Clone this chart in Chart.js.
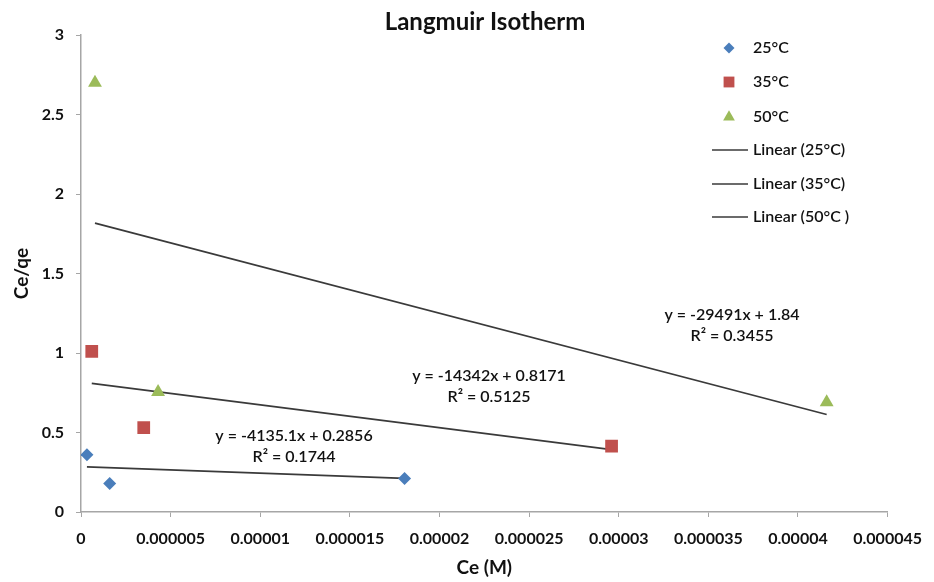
<!DOCTYPE html>
<html>
<head>
<meta charset="utf-8">
<script src="https://cdn.jsdelivr.net/npm/chart.js@4"></script>
<style>
  html, body { margin: 0; padding: 0; background: #fff; }
  #wrap { width: 934px; height: 582px; position: relative; }
</style>
</head>
<body>
<div id="wrap"><canvas id="chart"></canvas></div>
<script>
  // Data
  const seriesNames = ['25°C', '35°C', '50°C'];
  const ce25 = [0.00000033, 0.0000016, 0.00001805];
  const ratio25 = [0.36, 0.18, 0.21];
  const ce35 = [0.0000006, 0.0000035, 0.0000296];
  const ratio35 = [1.01, 0.53, 0.415];
  const ce50 = [0.00000078, 0.0000043, 0.0000416];
  const ratio50 = [2.70, 0.755, 0.69];

  const trendNames = ['Linear (25°C)', 'Linear (35°C)', 'Linear (50°C )'];
  const trendSlopes = [-4135.1, -14342, -29491];
  const trendIntercepts = [0.2856, 0.8171, 1.84];
  const trendEquations = ['y = -4135.1x + 0.2856', 'y = -14342x + 0.8171', 'y = -29491x + 1.84'];
  const trendR2 = ['R² = 0.1744', 'R² = 0.5125', 'R² = 0.3455'];

  const xTickValues = [0, 0.000005, 0.00001, 0.000015, 0.00002, 0.000025, 0.00003, 0.000035, 0.00004, 0.000045];
  const xTickLabels = ['0', '0.000005', '0.00001', '0.000015', '0.00002', '0.000025', '0.00003', '0.000035', '0.00004', '0.000045'];
  const yTickValues = [0, 0.5, 1, 1.5, 2, 2.5, 3];
  const yTickLabels = ['0', '0.5', '1', '1.5', '2', '2.5', '3'];

  const FONT = 'Lato, "Open Sans", sans-serif';
  const colors = ['#4a7ebb', '#c0504d', '#9bbb59'];
  const styles = ['rectRot', 'rect', 'triangle'];
  const radii = [6.5, 9, 8];

  const xs = [ce25, ce35, ce50];
  const ys = [ratio25, ratio35, ratio50];

  const pointSets = xs.map((arr, i) => ({
    label: seriesNames[i],
    data: arr.map((x, j) => ({ x: x, y: ys[i][j] })),
    backgroundColor: colors[i],
    borderColor: colors[i],
    borderWidth: 0,
    pointStyle: styles[i],
    pointRadius: radii[i],
    showLine: false
  }));

  // trend lines spanning each series' x range, from the fitted equations shown
  const trendSets = xs.map((arr, i) => {
    const lo = Math.min(...arr), hi = Math.max(...arr);
    return {
      label: trendNames[i],
      data: [lo, hi].map(x => ({ x: x, y: trendSlopes[i] * x + trendIntercepts[i] })),
      borderColor: '#3a3a3a',
      borderWidth: 1.7,
      pointRadius: 0,
      showLine: true,
      fill: false
    };
  });

  const overlay = {
    id: 'overlay',
    afterDraw(chart) {
      const ctx = chart.ctx;
      ctx.save();
      // title
      ctx.fillStyle = '#111';
      ctx.textAlign = 'center';
      ctx.textBaseline = 'middle';
      ctx.font = 'bold 24px ' + FONT;
      ctx.fillText('Langmuir Isotherm', 485, 22);

      // equation labels
      const spots = [[294, 436], [489, 376], [732, 315]];
      ctx.font = '600 16px ' + FONT;
      ctx.fillStyle = '#111';
      spots.forEach((p, i) => {
        ctx.fillText(trendEquations[i], p[0], p[1]);
        ctx.fillText(trendR2[i], p[0], p[1] + 21);
      });

      // legend
      ctx.textAlign = 'left';
      ctx.font = '600 16px ' + FONT;
      const rows = [48, 82, 117, 150, 184, 217];
      pointSets.forEach((ds, i) => {
        ctx.fillStyle = ds.backgroundColor;
        ctx.strokeStyle = ds.borderColor;
        Chart.helpers.drawPoint(ctx, { pointStyle: ds.pointStyle, radius: ds.pointRadius * 0.85, borderWidth: 0, rotation: 0 }, 729, rows[i]);
        ctx.fillStyle = '#111';
        ctx.fillText(ds.label, 753, rows[i]);
      });
      trendSets.forEach((ds, i) => {
        const y = rows[i + 3];
        ctx.strokeStyle = ds.borderColor;
        ctx.lineWidth = ds.borderWidth;
        ctx.beginPath();
        ctx.moveTo(712, y);
        ctx.lineTo(748, y);
        ctx.stroke();
        ctx.fillStyle = '#111';
        ctx.fillText(ds.label, 753, y);
      });
      ctx.restore();
    }
  };

  new Chart(document.getElementById('chart'), {
    type: 'scatter',
    data: { datasets: [...pointSets, ...trendSets] },
    options: {
      responsive: true,
      maintainAspectRatio: false,
      animation: false,
      layout: { padding: { top: 35, right: 40, left: 0, bottom: 0 } },
      plugins: {
        legend: { display: false },
        tooltip: { enabled: false },
        title: { display: false }
      },
      scales: {
        x: {
          type: 'linear',
          min: 0,
          max: 0.000045,
          afterBuildTicks: s => { s.ticks = xTickValues.map(v => ({ value: v })); },
          afterFit: s => { s.height = 70; },
          ticks: {
            autoSkip: false,
            maxRotation: 0,
            padding: 12,
            color: '#111',
            font: { family: FONT, size: 16, weight: 'bold' },
            callback: (v, i) => xTickLabels[i]
          },
          grid: { drawOnChartArea: false, drawTicks: true, tickLength: 5, color: '#a6a6a6' },
          border: { display: true, color: '#a6a6a6', width: 1.5 },
          title: {
            display: true,
            text: 'Ce (M)',
            color: '#111',
            font: { family: FONT, size: 19, weight: 'bold' },
            padding: { top: 0, bottom: 3 }
          }
        },
        y: {
          type: 'linear',
          min: 0,
          max: 3,
          afterBuildTicks: s => { s.ticks = yTickValues.map(v => ({ value: v })); },
          afterFit: s => { s.width = 81; },
          ticks: {
            padding: 12,
            color: '#111',
            font: { family: FONT, size: 16, weight: 'bold' },
            callback: (v, i) => yTickLabels[i]
          },
          grid: { drawOnChartArea: false, drawTicks: true, tickLength: 5, color: '#a6a6a6' },
          border: { display: true, color: '#a6a6a6', width: 1.5 },
          title: {
            display: true,
            text: 'Ce/qe',
            color: '#111',
            font: { family: FONT, size: 19, weight: 'bold' },
            padding: { top: 10, bottom: 0 }
          }
        }
      }
    },
    plugins: [overlay]
  });
</script>
</body>
</html>
